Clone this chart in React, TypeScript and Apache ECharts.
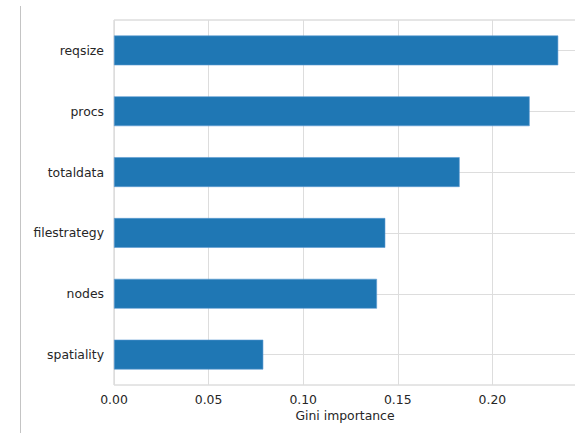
import React, { useEffect, useRef } from "react";
import * as echarts from "echarts";

const categories = ["reqsize", "procs", "totaldata", "filestrategy", "nodes", "spatiality"];
const importance = [0.2348, 0.2197, 0.1827, 0.1434, 0.139, 0.0789];
const xTicks = [0, 0.05, 0.1, 0.15, 0.2];
const xAxisMax = 0.2442;
const xAxisTitle = "Gini importance";

export default function App() {
  const ref = useRef<HTMLDivElement>(null);
  useEffect(() => {
    if (!ref.current) return;
    const chart = echarts.init(ref.current, null, { renderer: "svg" });
    const font = "DejaVu Sans";
    const fs = 12.4;
    chart.setOption({
      animation: false,
      backgroundColor: "#ffffff",
      textStyle: { fontFamily: font },
      grid: {
        left: 114,
        top: 20,
        right: -1,
        bottom: 48,
        show: true,
        borderColor: "#cccccc",
        borderWidth: 1,
        containLabel: false,
        outerBoundsMode: "none",
      },
      xAxis: {
        type: "value",
        min: xTicks[0],
        max: xAxisMax,
        interval: xTicks[1] - xTicks[0],
        name: xAxisTitle,
        nameLocation: "middle",
        nameGap: 23,
        nameTextStyle: { color: "#262626", fontSize: fs, fontFamily: font },
        axisLine: { show: false },
        axisTick: { show: false },
        axisLabel: {
          color: "#262626",
          fontSize: fs,
          fontFamily: font,
          margin: 8,
          showMaxLabel: false,
          formatter: (v: number) => v.toFixed(2),
        },
        splitLine: { show: true, lineStyle: { color: "#dddddd", width: 1 } },
      },
      yAxis: {
        type: "category",
        data: categories,
        inverse: true,
        axisLine: { show: false },
        axisTick: { show: false, alignWithLabel: true },
        axisLabel: { color: "#262626", fontSize: fs, fontFamily: font, margin: 10 },
        splitLine: { show: true, alignWithLabel: true, lineStyle: { color: "#dddddd", width: 1 } },
      },
      series: [
        {
          type: "bar",
          data: importance,
          barWidth: "49%",
          itemStyle: { color: "#1f77b4", borderColor: "#5c9bd1", borderWidth: 0.6 },
        },
      ],
      graphic: [
        {
          type: "line",
          shape: { x1: 20.5, y1: 6, x2: 20.5, y2: 433 },
          style: { stroke: "#c4c4c4", lineWidth: 1 },
        },
      ],
    });
    return () => chart.dispose();
  }, []);
  return (
    <div
      ref={ref}
      style={{ position: "fixed", left: 0, top: 0, width: 575, height: 433, background: "#fff" }}
    />
  );
}
